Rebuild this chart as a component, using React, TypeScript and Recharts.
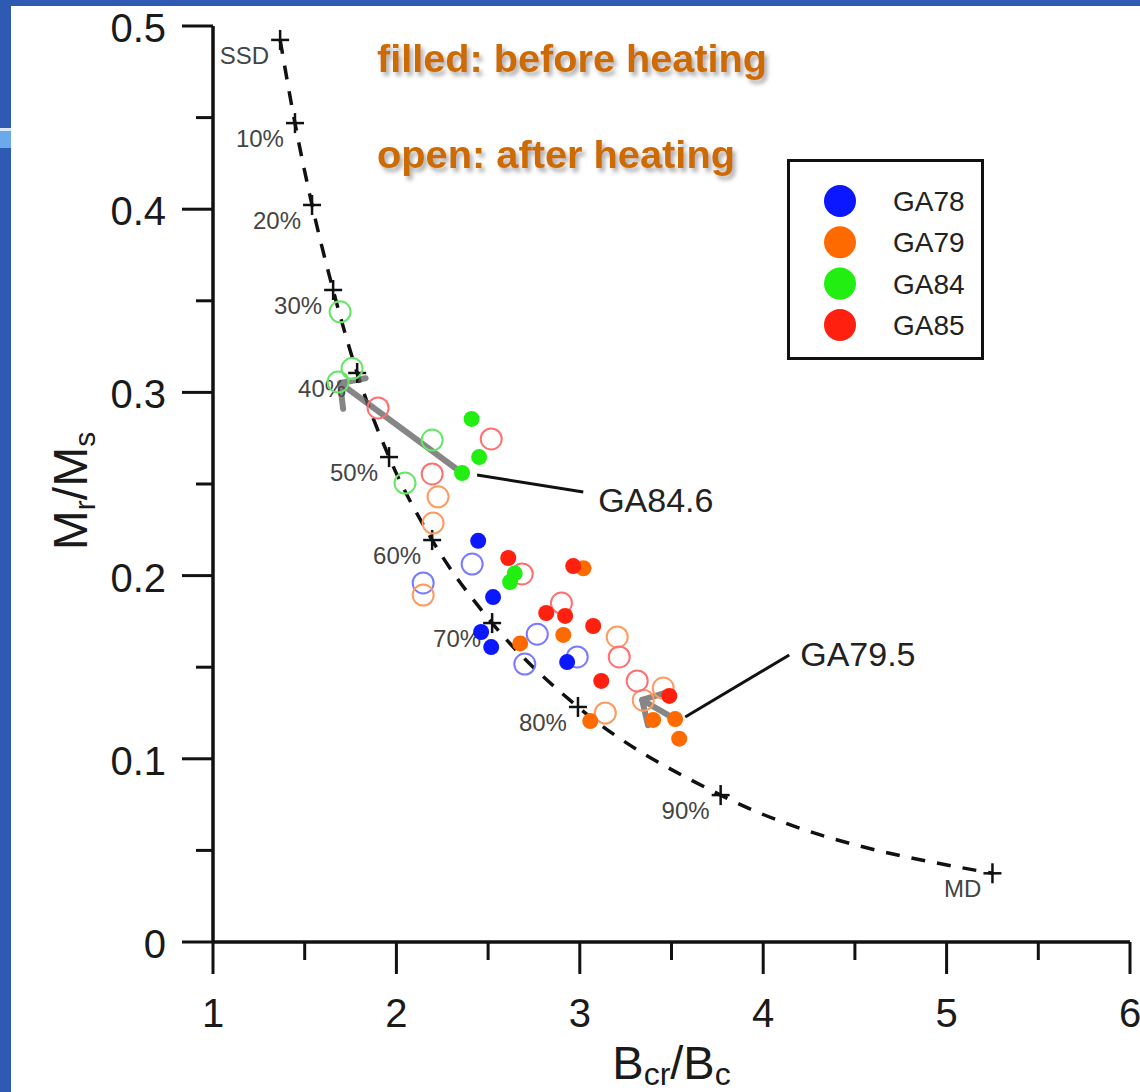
import React from 'react';
import {
  ComposedChart,
  XAxis,
  YAxis,
  Scatter,
  Line,
  ReferenceLine,
  ReferenceDot,
  Legend,
} from 'recharts';

// ---------- data ----------
const samples = ['GA78', 'GA79', 'GA84', 'GA85'];
const fillColors = ['#0a17ff', '#ff6a00', '#22ee11', '#ff2010'];
const openColors = ['#7a7aff', '#ff9a60', '#66e666', '#ff7070'];

// filled: before heating
const ga78Before = [
  { x: 2.446, y: 0.219 },
  { x: 2.527, y: 0.1883 },
  { x: 2.462, y: 0.1692 },
  { x: 2.517, y: 0.161 },
  { x: 2.931, y: 0.1528 },
];
const ga79Before = [
  { x: 3.02, y: 0.204 },
  { x: 2.91, y: 0.1676 },
  { x: 2.675, y: 0.163 },
  { x: 3.057, y: 0.1206 },
  { x: 3.4, y: 0.1212 },
  { x: 3.52, y: 0.1217 },
  { x: 3.542, y: 0.111 },
];
const ga84Before = [
  { x: 2.41, y: 0.2855 },
  { x: 2.451, y: 0.2647 },
  { x: 2.358, y: 0.256 },
  { x: 2.62, y: 0.1965 },
  { x: 2.645, y: 0.2012 },
];
const ga85Before = [
  { x: 2.61, y: 0.2096 },
  { x: 2.964, y: 0.2052 },
  { x: 2.817, y: 0.1796 },
  { x: 2.92, y: 0.178 },
  { x: 3.073, y: 0.1725 },
  { x: 3.117, y: 0.1425 },
  { x: 3.488, y: 0.1343 },
];

// open: after heating
const ga78After = [
  { x: 2.413, y: 0.2063 },
  { x: 2.146, y: 0.196 },
  { x: 2.768, y: 0.168 },
  { x: 2.986, y: 0.1556 },
  { x: 2.7, y: 0.1517 },
];
const ga79After = [
  { x: 2.227, y: 0.243 },
  { x: 2.2, y: 0.2287 },
  { x: 2.146, y: 0.1894 },
  { x: 3.204, y: 0.1665 },
  { x: 3.455, y: 0.1386 },
  { x: 3.346, y: 0.132 },
  { x: 3.139, y: 0.125 },
];
const ga84After = [
  { x: 1.693, y: 0.344 },
  { x: 1.758, y: 0.313 },
  { x: 1.682, y: 0.3057 },
  { x: 2.195, y: 0.274 },
  { x: 2.047, y: 0.2505 },
];
const ga85After = [
  { x: 1.9, y: 0.2915 },
  { x: 2.517, y: 0.2746 },
  { x: 2.195, y: 0.2555 },
  { x: 2.686, y: 0.2009 },
  { x: 2.9, y: 0.185 },
  { x: 3.215, y: 0.1556 },
  { x: 3.313, y: 0.1425 },
];

// SD-MD mixing curve
const curveX = [1.366, 1.447, 1.54, 1.655, 1.786, 1.96, 2.195, 2.522, 2.99, 3.768, 5.25];
const curveY = [0.4924, 0.447, 0.4023, 0.3559, 0.3106, 0.2647, 0.2194, 0.1741, 0.1283, 0.0802, 0.0375];
const curveLabels = ['SSD', '10%', '20%', '30%', '40%', '50%', '60%', '70%', '80%', '90%', 'MD'];

const xTicks = [1, 1.5, 2, 2.5, 3, 3.5, 4, 4.5, 5, 5.5, 6];
const yTicks = [0, 0.05, 0.1, 0.15, 0.2, 0.25, 0.3, 0.35, 0.4, 0.45, 0.5];

// heating arrows (before -> after)
const arrowFrom = [
  { x: 2.358, y: 0.256 },
  { x: 3.52, y: 0.1217 },
];
const arrowTo = [
  { x: 1.693, y: 0.3051 },
  { x: 3.34, y: 0.1321 },
];

// callouts
const calloutNames = ['GA84.6', 'GA79.5'];
const calloutFrom = [
  { x: 2.44, y: 0.2549 },
  { x: 3.575, y: 0.1228 },
];
const calloutTo = [
  { x: 3.019, y: 0.2456 },
  { x: 4.142, y: 0.1567 },
];
const calloutText = [
  { x: 3.1, y: 0.2347 },
  { x: 4.202, y: 0.1507 },
];

const curvePts = curveX.map((x, i) => ({ x, y: curveY[i], label: curveLabels[i] }));
const beforeSets = [ga78Before, ga79Before, ga84Before, ga85Before];
const afterSets = [ga78After, ga79After, ga84After, ga85After];

const FONT = '"Liberation Sans", Arial, Helvetica, sans-serif';

// ---------- shapes ----------
const XTick = (props: any) => {
  const { x, y, payload } = props;
  const v = payload.value;
  const major = Math.abs(v - Math.round(v)) < 1e-6;
  return (
    <g>
      <line x1={x} x2={x} y1={y} y2={y + (major ? 32 : 18)} stroke="#111" strokeWidth={3} />
      {major && (
        <text x={x} y={y + 85} textAnchor="middle" fontSize={40} fill="#1a1a1a" fontFamily={FONT}>
          {String(v)}
        </text>
      )}
    </g>
  );
};

const YTick = (props: any) => {
  const { x, y, payload } = props;
  const v = payload.value;
  const major = Math.abs(v * 10 - Math.round(v * 10)) < 1e-6;
  return (
    <g>
      <line x1={x - (major ? 31 : 17)} x2={x} y1={y} y2={y} stroke="#111" strokeWidth={3} />
      {major && (
        <text x={x - 47} y={y + 16} textAnchor="end" fontSize={40} fill="#1a1a1a" fontFamily={FONT}>
          {v === 0 ? '0' : v.toFixed(1)}
        </text>
      )}
    </g>
  );
};

const PlusShape = (p: any) => {
  const { cx, cy, payload } = p;
  return (
    <g>
      <line x1={cx - 9} x2={cx + 9} y1={cy} y2={cy} stroke="#111" strokeWidth={2.5} />
      <line x1={cx} x2={cx} y1={cy - 10} y2={cy + 10} stroke="#111" strokeWidth={2.5} />
      <text x={cx - 11} y={cy + 24} textAnchor="end" fontSize={24} fill="#444" fontFamily={FONT}>
        {payload.label}
      </text>
    </g>
  );
};

const filledShape = (color: string) => (p: any) => (
  <circle cx={p.cx} cy={p.cy} r={8} fill={color} />
);
const openShape = (color: string) => (p: any) => (
  <circle cx={p.cx} cy={p.cy} r={10.5} fill="none" stroke={color} strokeWidth={2} />
);

const ArrowShape = (p: any) => {
  const { x1, y1, x2, y2 } = p;
  const ang = Math.atan2(y1 - y2, x1 - x2);
  const L = 26;
  const s = 0.82;
  const ax = x2 + L * Math.cos(ang + s);
  const ay = y2 + L * Math.sin(ang + s);
  const bx = x2 + L * Math.cos(ang - s);
  const by = y2 + L * Math.sin(ang - s);
  return (
    <g opacity={0.75}>
      <line x1={x1} y1={y1} x2={x2} y2={y2} stroke="#5e5e5e" strokeWidth={6} strokeLinecap="round" />
      <polyline
        points={`${ax},${ay} ${x2},${y2} ${bx},${by}`}
        fill="none"
        stroke="#5e5e5e"
        strokeWidth={6}
        strokeLinecap="round"
        strokeLinejoin="round"
      />
    </g>
  );
};

const CalloutLine = (p: any) => (
  <line x1={p.x1} y1={p.y1} x2={p.x2} y2={p.y2} stroke="#111" strokeWidth={3} />
);

const calloutTextShape = (name: string) => (p: any) => (
  <text x={p.cx} y={p.cy} fontSize={34} fill="#222" fontFamily={FONT}>
    {name}
  </text>
);

const LegendBox = () => (
  <svg width={197} height={201} style={{ display: 'block' }}>
    <rect x={1.5} y={1.5} width={194} height={198} fill="#fff" stroke="#111" strokeWidth={3} />
    {samples.map((s, i) => (
      <g key={s}>
        <circle cx={53} cy={42 + i * 41.3} r={16} fill={fillColors[i]} />
        <text x={106} y={42 + i * 41.3 + 10} fontSize={28} fill="#222" fontFamily={FONT}>
          {s}
        </text>
      </g>
    ))}
  </svg>
);

const XLabel = (p: any) => {
  const vb = p.viewBox || { x: 213, y: 942, width: 917, height: 150 };
  const cx = vb.x + vb.width / 2;
  const by = vb.y + 137;
  return (
    <text x={cx} y={by} textAnchor="middle" fontSize={47} fill="#1a1a1a" fontFamily={FONT}>
      B
      <tspan fontSize={32} dy={6}>cr</tspan>
      <tspan dy={-6}>/B</tspan>
      <tspan fontSize={32} dy={6}>c</tspan>
    </text>
  );
};

const YLabel = (p: any) => {
  const vb = p.viewBox || { x: 0, y: 26, width: 213, height: 916 };
  const cy = vb.y + vb.height / 2 + 7;
  const bx = 87;
  return (
    <text
      x={bx}
      y={cy}
      transform={`rotate(-90 ${bx} ${cy})`}
      textAnchor="middle"
      fontSize={48}
      fill="#1a1a1a"
      fontFamily={FONT}
    >
      M
      <tspan fontSize={30} dy={8}>r</tspan>
      <tspan dy={-8}>/M</tspan>
      <tspan fontSize={30} dy={8}>s</tspan>
    </text>
  );
};

export default function App() {
  return (
    <div
      style={{
        position: 'absolute',
        left: 0,
        top: 0,
        width: 1140,
        height: 1092,
        background: '#fff',
        overflow: 'hidden',
      }}
    >
      <ComposedChart
        width={1140}
        height={1092}
        margin={{ top: 26, right: 10, bottom: 0, left: 0 }}
      >
        <XAxis
          type="number"
          dataKey="x"
          domain={[1, 6]}
          ticks={xTicks}
          interval={0}
          allowDataOverflow
          height={150}
          tickSize={0}
          tickMargin={0}
          tickLine={false}
          tick={<XTick />}
          axisLine={{ stroke: '#111', strokeWidth: 3.5 }}
          label={{ content: (p: any) => <XLabel {...p} /> }}
        />
        <YAxis
          type="number"
          dataKey="y"
          domain={[0, 0.5]}
          ticks={yTicks}
          interval={0}
          allowDataOverflow
          width={213}
          tickSize={0}
          tickMargin={0}
          tickLine={false}
          tick={<YTick />}
          axisLine={{ stroke: '#111', strokeWidth: 3.5 }}
          label={{ content: (p: any) => <YLabel {...p} /> }}
        />
        <Legend
          layout="vertical"
          align="center"
          verticalAlign="middle"
          wrapperStyle={{ position: 'absolute', left: 787, top: 159, width: 197, height: 201 }}
          content={() => <LegendBox />}
        />
        <Line
          data={curvePts}
          dataKey="y"
          type="monotoneX"
          stroke="#111"
          strokeWidth={3.5}
          strokeDasharray="14 12"
          dot={false}
          activeDot={false}
          isAnimationActive={false}
          legendType="none"
        />
        <Scatter data={curvePts} shape={PlusShape} isAnimationActive={false} legendType="none" />
        {afterSets.map((d, i) => (
          <Scatter
            key={'a' + i}
            name={samples[i] + ' after'}
            data={d}
            shape={openShape(openColors[i])}
            isAnimationActive={false}
          />
        ))}
        {beforeSets.map((d, i) => (
          <Scatter
            key={'b' + i}
            name={samples[i]}
            data={d}
            shape={filledShape(fillColors[i])}
            isAnimationActive={false}
          />
        ))}
        {arrowFrom.map((f, i) => (
          <ReferenceLine
            key={'arr' + i}
            segment={[f, arrowTo[i]]}
            shape={ArrowShape}
            ifOverflow="visible"
          />
        ))}
        {calloutFrom.map((f, i) => (
          <ReferenceLine
            key={'cl' + i}
            segment={[f, calloutTo[i]]}
            shape={CalloutLine}
            ifOverflow="visible"
          />
        ))}
        {calloutText.map((t, i) => (
          <ReferenceDot
            key={'ct' + i}
            x={t.x}
            y={t.y}
            r={0}
            shape={calloutTextShape(calloutNames[i])}
            ifOverflow="visible"
          />
        ))}
      </ComposedChart>
      <svg
        width={1140}
        height={1092}
        style={{ position: 'absolute', left: 0, top: 0, pointerEvents: 'none' }}
      >
        <defs>
          <filter id="tshadow" x="-10%" y="-30%" width="120%" height="160%">
            <feDropShadow dx="3" dy="4" stdDeviation="2" floodColor="#777" floodOpacity="0.6" />
          </filter>
        </defs>
        <rect x={0} y={0} width={1140} height={6} fill="#2e5ab4" />
        <rect x={0} y={0} width={11} height={1092} fill="#2e5ab4" />
        <rect x={0} y={128} width={11} height={3} fill="#dde8f6" />
        <rect x={0} y={131} width={11} height={17} fill="#6aaaea" />
        <g filter="url(#tshadow)" fontFamily={FONT} fontWeight="bold" fill="#cd6a00">
          <text x={377} y={72} fontSize={38} textLength={390} lengthAdjust="spacingAndGlyphs">
            filled: before heating
          </text>
          <text x={377} y={168} fontSize={38} textLength={358} lengthAdjust="spacingAndGlyphs">
            open: after heating
          </text>
        </g>
      </svg>
    </div>
  );
}
